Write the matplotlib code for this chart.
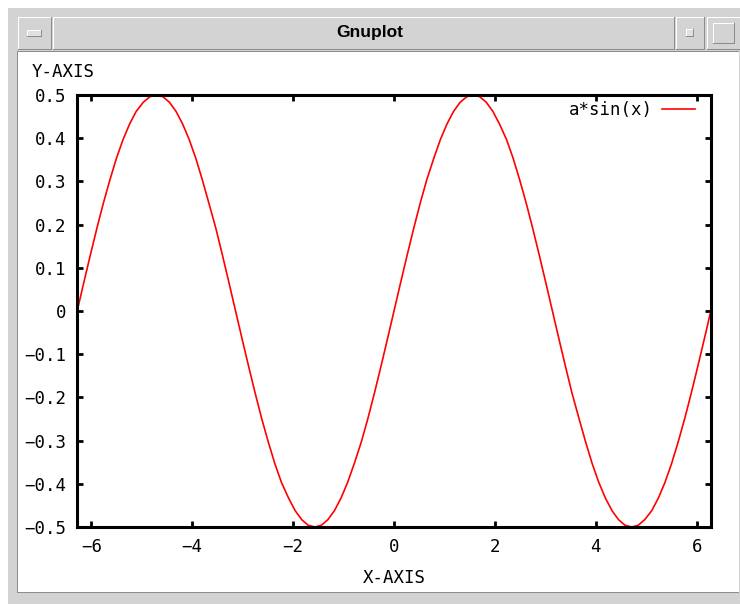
import numpy as np
import matplotlib
matplotlib.use('Agg')
import matplotlib.pyplot as plt
from matplotlib.patches import Rectangle

matplotlib.rcParams.update({'font.size': 12.5, 'font.family': 'DejaVu Sans Mono'})

x = [-6.28, -6.15, -6.02, -5.89, -5.76, -5.63, -5.50, -5.37, -5.24, -5.11, -4.97, -4.84,
     -4.71, -4.58, -4.45, -4.32, -4.19, -4.06, -3.93, -3.80, -3.67, -3.53, -3.40, -3.27,
     -3.14, -3.01, -2.88, -2.75, -2.62, -2.49, -2.36, -2.23, -2.09, -1.96, -1.83, -1.70,
     -1.57, -1.44, -1.31, -1.18, -1.05, -0.92, -0.79, -0.65, -0.52, -0.39, -0.26, -0.13,
     0.00, 0.13, 0.26, 0.39, 0.52, 0.65, 0.79, 0.92, 1.05, 1.18, 1.31, 1.44,
     1.57, 1.70, 1.83, 1.96, 2.09, 2.23, 2.36, 2.49, 2.62, 2.75, 2.88, 3.01,
     3.14, 3.27, 3.40, 3.53, 3.67, 3.80, 3.93, 4.06, 4.19, 4.32, 4.45, 4.58,
     4.71, 4.84, 4.97, 5.11, 5.24, 5.37, 5.50, 5.63, 5.76, 5.89, 6.02, 6.15, 6.28]
y = [0.0, 0.065, 0.129, 0.191, 0.25, 0.304, 0.354, 0.397, 0.433, 0.462, 0.483, 0.496,
     0.5, 0.496, 0.483, 0.462, 0.433, 0.397, 0.354, 0.304, 0.25, 0.191, 0.129, 0.065,
     0.0, -0.065, -0.129, -0.191, -0.25, -0.304, -0.354, -0.397, -0.433, -0.462, -0.483, -0.496,
     -0.5, -0.496, -0.483, -0.462, -0.433, -0.397, -0.354, -0.304, -0.25, -0.191, -0.129, -0.065,
     0.0, 0.065, 0.129, 0.191, 0.25, 0.304, 0.354, 0.397, 0.433, 0.462, 0.483, 0.496,
     0.5, 0.496, 0.483, 0.462, 0.433, 0.397, 0.354, 0.304, 0.25, 0.191, 0.129, 0.065,
     0.0, -0.065, -0.129, -0.191, -0.25, -0.304, -0.354, -0.397, -0.433, -0.462, -0.483, -0.496,
     -0.5, -0.496, -0.483, -0.462, -0.433, -0.397, -0.354, -0.304, -0.25, -0.191, -0.129, -0.065, 0.0]

xticks = [-6, -4, -2, 0, 2, 4, 6]
xtick_labels = ['\u22126', '\u22124', '\u22122', '0', '2', '4', '6']
yticks = [-0.5, -0.4, -0.3, -0.2, -0.1, 0, 0.1, 0.2, 0.3, 0.4, 0.5]
ytick_labels = ['\u22120.5', '\u22120.4', '\u22120.3', '\u22120.2', '\u22120.1', '0',
                '0.1', '0.2', '0.3', '0.4', '0.5']

W, H = 740, 604
fig = plt.figure(figsize=(W / 100, H / 100), dpi=100)
fig.patch.set_facecolor('white')

def px_rect(x0, y0, x1, y1, **kw):
    # rectangle given in pixel coords (origin top-left)
    fig.patches.append(Rectangle((x0 / W, 1 - y1 / H), (x1 - x0) / W, (y1 - y0) / H,
                                 transform=fig.transFigure, figure=fig, zorder=-10, **kw))

def bevel(x0, y0, x1, y1, fill='#d3d3d3'):
    px_rect(x0, y0, x1, y1, facecolor='#8c8c8c', edgecolor='none')
    px_rect(x0, y0, x1 - 1, y1 - 1, facecolor='white', edgecolor='none')
    px_rect(x0 + 1, y0 + 1, x1 - 1, y1 - 1, facecolor=fill, edgecolor='none')

# window frame
bevel(7, 7, 742, 606, fill='#d3d3d3')
bevel(18, 17, 52, 50)
bevel(53, 17, 675, 50)
bevel(676, 17, 705, 50)
bevel(707, 17, 742, 50)
bevel(27, 30, 42, 37, fill='#e0e0e0')
bevel(686, 29, 694, 37, fill='#e0e0e0')
bevel(713, 23, 735, 44, fill='#d3d3d3')
px_rect(17, 51, 739, 593, facecolor='#8c8c8c', edgecolor='none')
px_rect(18, 52, 739, 592, facecolor='white', edgecolor='none')
fig.text(370 / W, 1 - 33 / H, 'Gnuplot', ha='center', va='center', fontsize=12.5,
         fontweight='bold', family='Liberation Sans')

ax = fig.add_axes([77 / W, 1 - 527 / H, 634 / W, 432 / H])
ax.set_facecolor('white')
ax.plot(x, y, color='red', lw=1.2, label='a*sin(x)')
ax.set_xlim(-6.2832, 6.2832)
ax.set_ylim(-0.5, 0.5)
ax.set_xticks(xticks)
ax.set_xticklabels(xtick_labels)
ax.set_yticks(yticks)
ax.set_yticklabels(ytick_labels)
ax.tick_params(direction='in', length=4, width=2, top=True, right=True,
               labelsize=12.5, pad=8)
for s in ax.spines.values():
    s.set_linewidth(2.2)
ax.set_xlabel('X-AXIS', fontsize=12.5, labelpad=9)
fig.text(32 / W, 1 - 72 / H, 'Y-AXIS', ha='left', va='center', fontsize=12.5)
ax.legend(loc='upper right', bbox_to_anchor=(0.984, 1.0), frameon=False,
          markerfirst=False, handlelength=1.9, fontsize=12.5, borderaxespad=0.25,
          borderpad=0.1, handletextpad=0.5)

fig.savefig('out.png', dpi=100)
